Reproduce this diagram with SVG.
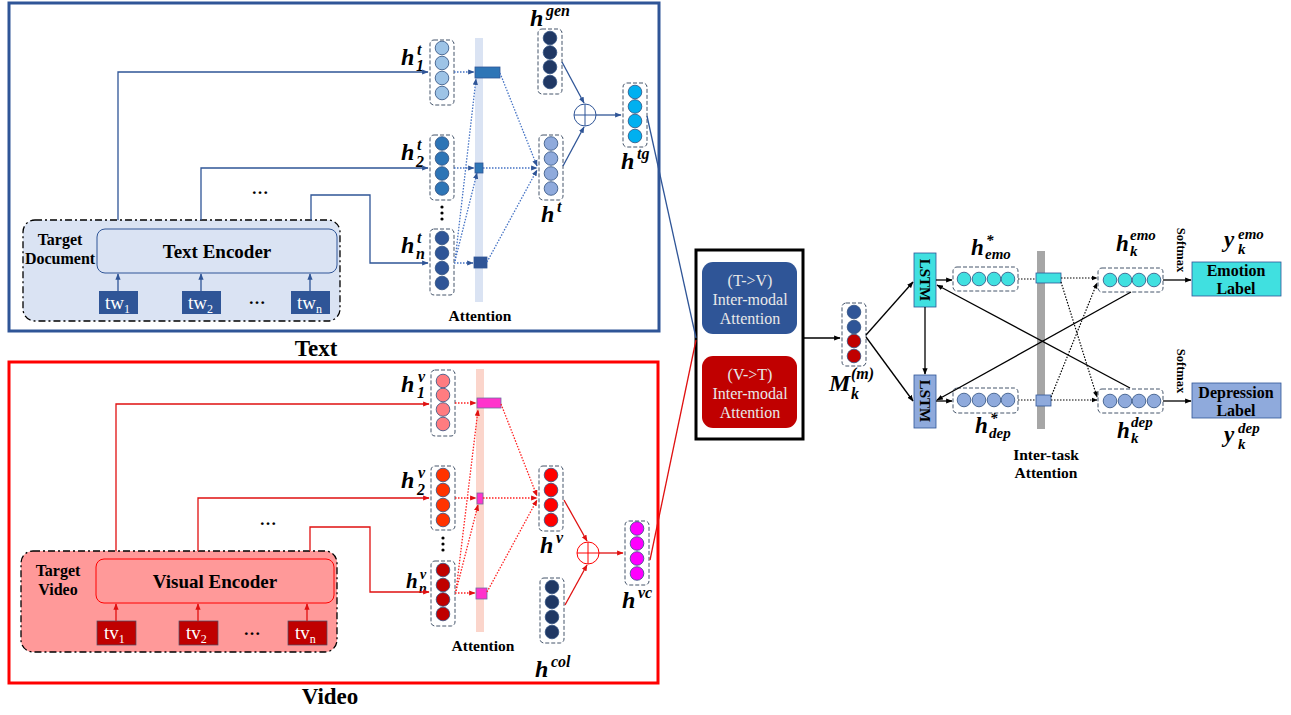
<svg xmlns="http://www.w3.org/2000/svg" width="1291" height="715" viewBox="0 0 1291 715">
<defs>
<style>
.bold{font-family:"Liberation Serif",serif;font-weight:bold;fill:#000}
.m{font-family:"Liberation Serif","DejaVu Serif",serif;font-weight:bold;font-style:italic;fill:#000}
.vec{fill:none;stroke:#44546A;stroke-width:1;stroke-dasharray:4 2}
.c{stroke:#2F4F7F;stroke-width:0.8}
.bl{fill:none;stroke:#2F5597;stroke-width:1.3}
.bd{fill:none;stroke:#4472C4;stroke-width:1.3;stroke-dasharray:1.5 1.5}
.rl{fill:none;stroke:#E01010;stroke-width:1.3}
.rd{fill:none;stroke:#FF2020;stroke-width:1.3;stroke-dasharray:1.5 1.5}
.kl{fill:none;stroke:#000;stroke-width:1.3}
.kd{fill:none;stroke:#000;stroke-width:1.2;stroke-dasharray:1.5 1.5}
.tok{font-family:"Liberation Serif",serif;fill:#fff;font-size:19px}
.att{font-family:"Liberation Serif",serif;fill:#E8E8E8;font-size:16px;text-anchor:middle}
</style>
<marker id="ab" viewBox="0 0 10 10" refX="9" refY="5" markerWidth="5" markerHeight="5" orient="auto"><path d="M0,1 L10,5 L0,9 z" fill="#2F5597"/></marker>
<marker id="ar" viewBox="0 0 10 10" refX="9" refY="5" markerWidth="5" markerHeight="5" orient="auto"><path d="M0,1 L10,5 L0,9 z" fill="#E01010"/></marker>
<marker id="ak" viewBox="0 0 10 10" refX="9" refY="5" markerWidth="5" markerHeight="5" orient="auto"><path d="M0,1 L10,5 L0,9 z" fill="#000"/></marker>
</defs>

<!-- Text panel -->
<g id="text-panel">
<rect x="9" y="3" width="650" height="328" fill="#fff" stroke="#2F5597" stroke-width="3"/>
<text class="bold" x="316" y="356" font-size="23" text-anchor="middle">Text</text>
</g>
<g id="target-document">
<rect x="23" y="220" width="317" height="101" rx="12" fill="#DAE3F3" stroke="#000" stroke-width="1.3" stroke-dasharray="7 3 2 3"/>
<text class="bold" x="60" y="245" font-size="16" text-anchor="middle">Target</text>
<text class="bold" x="60" y="264" font-size="16" text-anchor="middle">Document</text>
</g>
<g id="text-encoder">
<rect x="97" y="229" width="240" height="44" rx="8" fill="#DAE3F3" stroke="#2F5597" stroke-width="1"/>
<text class="bold" x="217" y="258" font-size="19" text-anchor="middle">Text Encoder</text>
</g>
<g id="tw1"><rect x="99" y="291" width="39" height="23" fill="#2F5597"/><text class="tok" x="105" y="309">tw<tspan font-size="12" dy="4">1</tspan></text></g>
<g id="tw2"><rect x="182" y="291" width="39" height="23" fill="#2F5597"/><text class="tok" x="188" y="309">tw<tspan font-size="12" dy="4">2</tspan></text></g>
<g id="twn"><rect x="291" y="291" width="39" height="23" fill="#2F5597"/><text class="tok" x="297" y="309">tw<tspan font-size="12" dy="4">n</tspan></text></g>
<text class="bold" x="257" y="304" font-size="17" text-anchor="middle">…</text>
<text class="bold" x="260" y="194" font-size="17" text-anchor="middle">…</text>

<g id="h1t">
<rect class="vec" x="430" y="40" width="24" height="65" rx="4"/>
<g fill="#9DC3E6" class="c"><circle cx="442" cy="48" r="6.8"/><circle cx="442" cy="63" r="6.8"/><circle cx="442" cy="78" r="6.8"/><circle cx="442" cy="93" r="6.8"/></g>
<text class="m" x="401" y="65" font-size="24">h</text><text class="m" x="417" y="55" font-size="16">t</text><text class="m" x="416" y="71" font-size="16">1</text>
</g>
<g id="h2t">
<rect class="vec" x="430" y="135" width="24" height="65" rx="4"/>
<g fill="#2E75B6" class="c"><circle cx="442" cy="143.5" r="6.8"/><circle cx="442" cy="158.5" r="6.8"/><circle cx="442" cy="173.5" r="6.8"/><circle cx="442" cy="188.5" r="6.8"/></g>
<text class="m" x="401" y="160" font-size="24">h</text><text class="m" x="417" y="150" font-size="16">t</text><text class="m" x="416" y="167" font-size="16">2</text>
</g>
<g fill="#000"><circle cx="442" cy="207" r="1.6"/><circle cx="442" cy="213" r="1.6"/><circle cx="442" cy="219" r="1.6"/></g>
<g id="hnt">
<rect class="vec" x="430" y="229" width="24" height="66" rx="4"/>
<g fill="#2F5597" class="c"><circle cx="442" cy="238" r="6.8"/><circle cx="442" cy="253" r="6.8"/><circle cx="442" cy="268" r="6.8"/><circle cx="442" cy="283" r="6.8"/></g>
<text class="m" x="401" y="253" font-size="24">h</text><text class="m" x="417" y="243" font-size="16">t</text><text class="m" x="416" y="259" font-size="16">n</text>
</g>
<g id="text-attention">
<rect x="475" y="38" width="8" height="264" fill="#DAE3F3"/>
<rect x="475" y="67" width="25" height="11" fill="#2E75B6" stroke="#2F5597" stroke-width="0.8"/>
<rect x="475" y="163" width="8" height="10" fill="#2E75B6" stroke="#2F5597" stroke-width="0.8"/>
<rect x="474" y="257" width="13" height="11" fill="#2F5597" stroke="#2F5597" stroke-width="0.8"/>
<text class="bold" x="480" y="321" font-size="15.5" text-anchor="middle">Attention</text>
</g>
<g id="hgen">
<rect class="vec" x="538" y="29" width="24" height="65" rx="4"/>
<g fill="#203864" class="c"><circle cx="550" cy="38" r="6.8"/><circle cx="550" cy="52.5" r="6.8"/><circle cx="550" cy="67" r="6.8"/><circle cx="550" cy="82" r="6.8"/></g>
<text class="m" x="530" y="26" font-size="24">h</text><text class="m" x="546" y="16" font-size="16">gen</text>
</g>
<g id="ht">
<rect class="vec" x="539" y="135" width="24" height="65" rx="4"/>
<g fill="#8FAADC" class="c"><circle cx="551" cy="143.5" r="6.8"/><circle cx="551" cy="158.5" r="6.8"/><circle cx="551" cy="173.5" r="6.8"/><circle cx="551" cy="188.5" r="6.8"/></g>
<text class="m" x="541" y="222" font-size="24">h</text><text class="m" x="557" y="212" font-size="16">t</text>
</g>
<g id="plus-t">
<circle cx="585" cy="115" r="11" fill="#fff" stroke="#2F5597" stroke-width="1"/>
<path d="M574,115 H596 M585,104 V126" stroke="#2F5597" stroke-width="1"/>
</g>
<g id="htg">
<rect class="vec" x="623" y="83" width="24" height="64" rx="4"/>
<g fill="#00B0F0" class="c"><circle cx="635" cy="92" r="6.8"/><circle cx="635" cy="106.5" r="6.8"/><circle cx="635" cy="121" r="6.8"/><circle cx="635" cy="136" r="6.8"/></g>
<text class="m" x="621" y="169" font-size="24">h</text><text class="m" x="637" y="159" font-size="16">tg</text>
</g>

<!-- Video panel -->
<g id="video-panel">
<rect x="9" y="362" width="649" height="321" fill="none" stroke="#FF0000" stroke-width="3"/>
<text class="bold" x="330" y="704" font-size="23" text-anchor="middle">Video</text>
</g>
<g id="target-video">
<rect x="21" y="551" width="316" height="101" rx="12" fill="#FF9999" stroke="#000" stroke-width="1.3" stroke-dasharray="7 3 2 3"/>
<text class="bold" x="58" y="576" font-size="16" text-anchor="middle">Target</text>
<text class="bold" x="58" y="595" font-size="16" text-anchor="middle">Video</text>
</g>
<g id="visual-encoder">
<rect x="96" y="559" width="238" height="44" rx="8" fill="#FF9999" stroke="#FF0000" stroke-width="1"/>
<text class="bold" x="215" y="588" font-size="19" text-anchor="middle">Visual Encoder</text>
</g>
<g id="tv1"><rect x="97" y="621" width="39" height="24" fill="#C00000" stroke="#44546A" stroke-width="0.7"/><text class="tok" x="104" y="639">tv<tspan font-size="12" dy="4">1</tspan></text></g>
<g id="tv2"><rect x="179" y="621" width="39" height="24" fill="#C00000" stroke="#44546A" stroke-width="0.7"/><text class="tok" x="186" y="639">tv<tspan font-size="12" dy="4">2</tspan></text></g>
<g id="tvn"><rect x="288" y="621" width="39" height="24" fill="#C00000" stroke="#44546A" stroke-width="0.7"/><text class="tok" x="295" y="639">tv<tspan font-size="12" dy="4">n</tspan></text></g>
<text class="bold" x="252" y="635" font-size="17" text-anchor="middle">…</text>
<text class="bold" x="268" y="525" font-size="17" text-anchor="middle">…</text>

<g id="h1v">
<rect class="vec" x="431" y="370" width="24" height="66" rx="4"/>
<g fill="#FF7C80" class="c"><circle cx="443" cy="381" r="6.8"/><circle cx="443" cy="395" r="6.8"/><circle cx="443" cy="409.5" r="6.8"/><circle cx="443" cy="424" r="6.8"/></g>
<text class="m" x="401" y="392" font-size="24">h</text><text class="m" x="418" y="382" font-size="16">v</text><text class="m" x="417" y="398" font-size="16">1</text>
</g>
<g id="h2v">
<rect class="vec" x="431" y="466" width="24" height="64" rx="4"/>
<g fill="#FF3300" class="c"><circle cx="443" cy="475" r="6.8"/><circle cx="443" cy="490" r="6.8"/><circle cx="443" cy="505" r="6.8"/><circle cx="443" cy="520" r="6.8"/></g>
<text class="m" x="401" y="488" font-size="24">h</text><text class="m" x="418" y="478" font-size="16">v</text><text class="m" x="417" y="495" font-size="16">2</text>
</g>
<g fill="#000"><circle cx="443" cy="538" r="1.6"/><circle cx="443" cy="544" r="1.6"/><circle cx="443" cy="550" r="1.6"/></g>
<g id="hnv">
<rect class="vec" x="431" y="561" width="24" height="65" rx="4"/>
<g fill="#C00000" class="c"><circle cx="443" cy="570" r="6.8"/><circle cx="443" cy="585" r="6.8"/><circle cx="443" cy="599.5" r="6.8"/><circle cx="443" cy="614" r="6.8"/></g>
<text class="m" x="406" y="588" font-size="21">h</text><text class="m" x="420" y="579" font-size="14">v</text><text class="m" x="419" y="593" font-size="14">n</text>
</g>
<g id="video-attention">
<rect x="476" y="369" width="8" height="263" fill="#FBD5CB"/>
<rect x="477" y="398" width="24" height="10" fill="#FF33CC" stroke="#6F6F9F" stroke-width="0.8"/>
<rect x="477" y="493" width="6" height="11" fill="#FF33CC" stroke="#6F6F9F" stroke-width="0.8"/>
<rect x="476" y="588" width="11" height="11" fill="#FF33CC" stroke="#6F6F9F" stroke-width="0.8"/>
<text class="bold" x="483" y="651" font-size="15.5" text-anchor="middle">Attention</text>
</g>
<g id="hv">
<rect class="vec" x="539" y="466" width="24" height="65" rx="4"/>
<g fill="#FF0000" class="c"><circle cx="551" cy="475" r="6.8"/><circle cx="551" cy="490" r="6.8"/><circle cx="551" cy="505" r="6.8"/><circle cx="551" cy="520" r="6.8"/></g>
<text class="m" x="540" y="553" font-size="24">h</text><text class="m" x="556" y="543" font-size="16">v</text>
</g>
<g id="hcol">
<rect class="vec" x="540" y="578" width="24" height="65" rx="4"/>
<g fill="#203864" class="c"><circle cx="552" cy="587" r="6.8"/><circle cx="552" cy="602" r="6.8"/><circle cx="552" cy="617" r="6.8"/><circle cx="552" cy="632" r="6.8"/></g>
<text class="m" x="535" y="677" font-size="24">h</text><text class="m" x="551" y="667" font-size="16">col</text>
</g>
<g id="plus-v">
<circle cx="588" cy="553" r="11" fill="#fff" stroke="#FF0000" stroke-width="1"/>
<path d="M577,553 H599 M588,542 V564" stroke="#FF0000" stroke-width="1"/>
</g>
<g id="hvc">
<rect class="vec" x="625" y="521" width="24" height="64" rx="4"/>
<g fill="#FF00FF" class="c"><circle cx="637" cy="528.5" r="6.8"/><circle cx="637" cy="543.5" r="6.8"/><circle cx="637" cy="558.5" r="6.8"/><circle cx="637" cy="573.5" r="6.8"/></g>
<text class="m" x="622" y="608" font-size="24">h</text><text class="m" x="638" y="598" font-size="16">vc</text>
</g>

<!-- Inter-modal attention -->
<g id="inter-modal">
<rect x="696" y="250" width="107" height="189" fill="#fff" stroke="#000" stroke-width="3"/>
</g>
<g id="tv-attention">
<rect x="702" y="262" width="95" height="72" rx="11" fill="#2F5597"/>
<text class="att" x="750" y="286">(T-&gt;V)</text>
<text class="att" x="750" y="305">Inter-modal</text>
<text class="att" x="750" y="324">Attention</text>
</g>
<g id="vt-attention">
<rect x="702" y="356" width="95" height="72" rx="11" fill="#C00000"/>
<text class="att" x="750" y="380">(V-&gt;T)</text>
<text class="att" x="750" y="399">Inter-modal</text>
<text class="att" x="750" y="418">Attention</text>
</g>
<g id="M">
<rect class="vec" x="842" y="303" width="24" height="63" rx="4"/>
<g class="c"><circle cx="854" cy="312" r="6.8" fill="#2F5597"/><circle cx="854" cy="327" r="6.8" fill="#2F5597"/><circle cx="854" cy="341" r="6.8" fill="#C00000"/><circle cx="854" cy="356" r="6.8" fill="#C00000"/></g>
<text class="m" x="829" y="391" font-size="24">M</text><text class="m" x="851" y="379" font-size="16">(m)</text><text class="m" x="851" y="399" font-size="16">k</text>
</g>

<!-- Right part -->
<g id="lstm-emo">
<rect x="914" y="253" width="22" height="54" fill="#40E0E0" stroke="#2F5597" stroke-width="0.8"/>
<text class="bold" x="0" y="0" font-size="15" text-anchor="middle" transform="translate(920,280) rotate(90)">LSTM</text>
</g>
<g id="lstm-dep">
<rect x="914" y="375" width="22" height="53" fill="#8FAADC" stroke="#2F5597" stroke-width="0.8"/>
<text class="bold" x="0" y="0" font-size="15" text-anchor="middle" transform="translate(920,401) rotate(90)">LSTM</text>
</g>
<g id="h-emo-star">
<rect class="vec" x="953" y="267" width="65" height="24" rx="4"/>
<g fill="#40E0E0" class="c"><circle cx="964" cy="279" r="6.8"/><circle cx="979" cy="279" r="6.8"/><circle cx="994" cy="279" r="6.8"/><circle cx="1008" cy="279" r="6.8"/></g>
<text class="m" x="971" y="255" font-size="23">h</text><text class="m" x="986" y="245" font-size="15">*</text><text class="m" x="985" y="259" font-size="15">emo</text>
</g>
<g id="h-dep-star">
<rect class="vec" x="953" y="388" width="65" height="25" rx="4"/>
<g fill="#8FAADC" class="c"><circle cx="964" cy="400" r="6.8"/><circle cx="979" cy="400" r="6.8"/><circle cx="994" cy="400" r="6.8"/><circle cx="1008" cy="400" r="6.8"/></g>
<text class="m" x="975" y="433" font-size="23">h</text><text class="m" x="990" y="423" font-size="15">*</text><text class="m" x="989" y="438" font-size="15">dep</text>
</g>
<g id="inter-task">
<rect x="1037" y="251" width="8" height="178" fill="#A6A6A6"/>
<rect x="1036" y="273" width="25" height="10" fill="#40E0E0" stroke="#2F5597" stroke-width="0.8"/>
<rect x="1036" y="395" width="15" height="11" fill="#8FAADC" stroke="#2F5597" stroke-width="0.8"/>
<text class="bold" x="1046" y="460" font-size="15.5" text-anchor="middle">Inter-task</text>
<text class="bold" x="1046" y="478" font-size="15.5" text-anchor="middle">Attention</text>
</g>
<g id="h-emo-k">
<rect class="vec" x="1098" y="268" width="65" height="24" rx="4"/>
<g fill="#40E0E0" class="c"><circle cx="1110" cy="280" r="6.8"/><circle cx="1125" cy="280" r="6.8"/><circle cx="1139" cy="280" r="6.8"/><circle cx="1154" cy="280" r="6.8"/></g>
<text class="m" x="1116" y="251" font-size="23">h</text><text class="m" x="1130" y="240" font-size="15">emo</text><text class="m" x="1130" y="256" font-size="15">k</text>
</g>
<g id="h-dep-k">
<rect class="vec" x="1098" y="389" width="65" height="24" rx="4"/>
<g fill="#8FAADC" class="c"><circle cx="1110" cy="401" r="6.8"/><circle cx="1125" cy="401" r="6.8"/><circle cx="1139" cy="401" r="6.8"/><circle cx="1154" cy="401" r="6.8"/></g>
<text class="m" x="1117" y="438" font-size="23">h</text><text class="m" x="1131" y="427" font-size="15">dep</text><text class="m" x="1131" y="443" font-size="15">k</text>
</g>
<g id="emotion-label">
<rect x="1192" y="262" width="89" height="34" fill="#40E0E0" stroke="#2F5597" stroke-width="0.8"/>
<text class="bold" x="1236" y="276" font-size="16" text-anchor="middle">Emotion</text>
<text class="bold" x="1236" y="294" font-size="16" text-anchor="middle">Label</text>
<text class="m" x="1224" y="247" font-size="23">y</text><text class="m" x="1238" y="239" font-size="15">emo</text><text class="m" x="1238" y="254" font-size="15">k</text>
<text class="bold" font-size="12.5" text-anchor="middle" transform="translate(1177,250) rotate(90)">Softmax</text>
</g>
<g id="depression-label">
<rect x="1192" y="383" width="89" height="35" fill="#8FAADC" stroke="#2F5597" stroke-width="0.8"/>
<text class="bold" x="1236" y="398" font-size="16" text-anchor="middle">Depression</text>
<text class="bold" x="1236" y="416" font-size="16" text-anchor="middle">Label</text>
<text class="m" x="1224" y="442" font-size="23">y</text><text class="m" x="1238" y="433" font-size="15">dep</text><text class="m" x="1238" y="449" font-size="15">k</text>
<text class="bold" font-size="12.5" text-anchor="middle" transform="translate(1177,371) rotate(90)">Softmax</text>
</g>

<!-- Connectors -->
<g id="connectors">
<path class="bl" d="M118,220 V72 H428" marker-end="url(#ab)"/>
<path class="bl" d="M201,220 V168 H428" marker-end="url(#ab)"/>
<path class="bl" d="M311,220 V195 H370 V263 H428" marker-end="url(#ab)"/>
<path class="bl" d="M118,291 V274" marker-end="url(#ab)"/>
<path class="bl" d="M201,291 V274" marker-end="url(#ab)"/>
<path class="bl" d="M310,291 V274" marker-end="url(#ab)"/>
<path class="bd" d="M454,72 H474" marker-end="url(#ab)"/>
<path class="bd" d="M454,168 H474" marker-end="url(#ab)"/>
<path class="bd" d="M454,263 H473" marker-end="url(#ab)"/>
<path class="bd" d="M455,261 L476,79" marker-end="url(#ab)"/>
<path class="bd" d="M455,261 L477,173" marker-end="url(#ab)"/>
<path class="bd" d="M500,73 L537,166" marker-end="url(#ab)"/>
<path class="bd" d="M483,168 H537" marker-end="url(#ab)"/>
<path class="bd" d="M487,262 L537,170" marker-end="url(#ab)"/>
<path class="bl" d="M562,62 L584,103" marker-end="url(#ab)"/>
<path class="bl" d="M563,166 L584,127" marker-end="url(#ab)"/>
<path class="bl" d="M596,115 H621" marker-end="url(#ab)"/>
<path class="bl" d="M647,116 L696,338"/>

<path class="rl" d="M116,551 V404 H429" marker-end="url(#ar)"/>
<path class="rl" d="M198,551 V498 H429" marker-end="url(#ar)"/>
<path class="rl" d="M310,551 V527 H370 V592 H429" marker-end="url(#ar)"/>
<path class="rl" d="M116,621 V604" marker-end="url(#ar)"/>
<path class="rl" d="M198,621 V604" marker-end="url(#ar)"/>
<path class="rl" d="M307,621 V604" marker-end="url(#ar)"/>
<path class="rd" d="M455,403 H476" marker-end="url(#ar)"/>
<path class="rd" d="M455,498 H476" marker-end="url(#ar)"/>
<path class="rd" d="M455,593 H475" marker-end="url(#ar)"/>
<path class="rd" d="M456,591 L478,410" marker-end="url(#ar)"/>
<path class="rd" d="M456,591 L478,505" marker-end="url(#ar)"/>
<path class="rd" d="M501,404 L537,496" marker-end="url(#ar)"/>
<path class="rd" d="M483,498 H537" marker-end="url(#ar)"/>
<path class="rd" d="M487,592 L537,500" marker-end="url(#ar)"/>
<path class="rl" d="M564,500 L587,541" marker-end="url(#ar)"/>
<path class="rl" d="M565,605 L587,565" marker-end="url(#ar)"/>
<path class="rl" d="M599,553 H623" marker-end="url(#ar)"/>
<path class="rl" d="M650,560 L696,340"/>

<path class="kl" d="M803,338 H840" marker-end="url(#ak)"/>
<path class="kl" d="M866,335 L913,282" marker-end="url(#ak)"/>
<path class="kl" d="M866,337 L913,401" marker-end="url(#ak)"/>
<path class="kl" d="M925,307 V374" marker-end="url(#ak)"/>
<path class="kl" d="M936,280 H952" marker-end="url(#ak)"/>
<path class="kl" d="M936,401 H952" marker-end="url(#ak)"/>
<path class="kl" d="M1131,292 L937,400" marker-end="url(#ak)"/>
<path class="kl" d="M1130,388 L937,285" marker-end="url(#ak)"/>
<path class="kd" d="M1018,279 H1036"/>
<path class="kd" d="M1061,278 H1097" marker-end="url(#ak)"/>
<path class="kd" d="M1061,282 L1097,397" marker-end="url(#ak)"/>
<path class="kd" d="M1051,397 L1097,283" marker-end="url(#ak)"/>
<path class="kd" d="M1051,400 H1097" marker-end="url(#ak)"/>
<path class="kd" d="M1018,400 H1036"/>
<path class="kl" d="M1163,280 H1191" marker-end="url(#ak)"/>
<path class="kl" d="M1163,401 H1191" marker-end="url(#ak)"/>
</g>
</svg>
